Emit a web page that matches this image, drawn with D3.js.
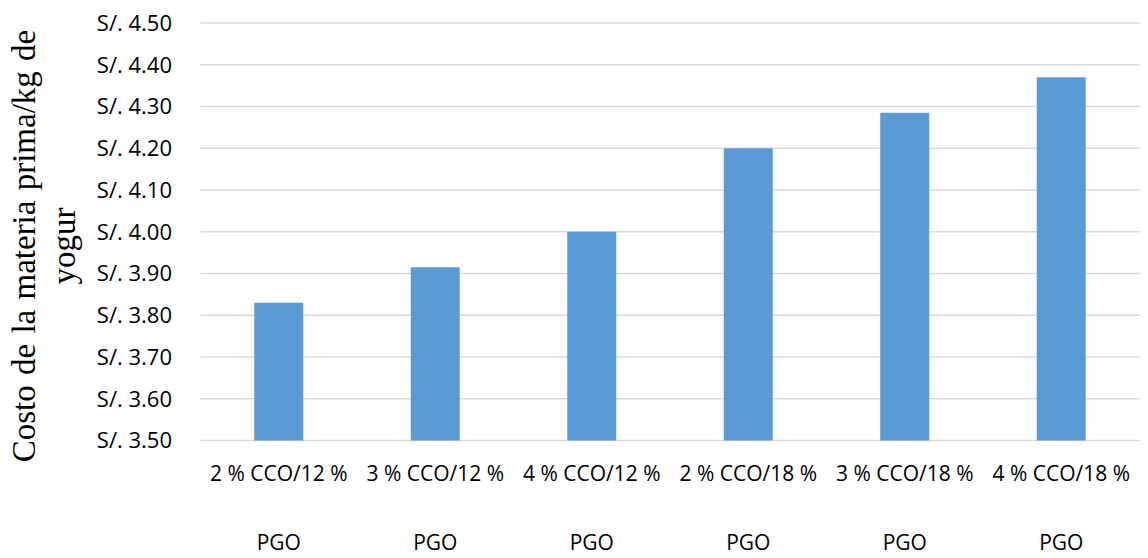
<!DOCTYPE html>
<html>
<head>
<meta charset="utf-8">
<script src="https://cdn.jsdelivr.net/npm/d3@7"></script>
<style>
  html, body { margin: 0; padding: 0; background: #fff; }
  svg { display: block; }
</style>
</head>
<body>
<svg id="chart" width="1148" height="558"></svg>
<script>
// Data
const categoryLine1 = ["2 % CCO/12 %", "3 % CCO/12 %", "4 % CCO/12 %", "2 % CCO/18 %", "3 % CCO/18 %", "4 % CCO/18 %"];
const categoryLine2 = ["PGO", "PGO", "PGO", "PGO", "PGO", "PGO"];
const values = [3.83, 3.915, 4.00, 4.20, 4.285, 4.37];
const yTicks = [3.50, 3.60, 3.70, 3.80, 3.90, 4.00, 4.10, 4.20, 4.30, 4.40, 4.50];
const yLabelLines = ["Costo de la materia prima/kg de", "yogur"];

const svg = d3.select("#chart");
const plot = { left: 200.5, right: 1139.5, top: 23, bottom: 440.5 };

const x = d3.scaleBand()
  .domain(d3.range(values.length))
  .range([plot.left, plot.right])
  .paddingInner(0.687)
  .paddingOuter(0.3435);

const y = d3.scaleLinear()
  .domain([3.5, 4.5])
  .range([plot.bottom, plot.top]);

// Gridlines
svg.append("g")
  .selectAll("line")
  .data(yTicks)
  .join("line")
  .attr("x1", plot.left)
  .attr("x2", plot.right)
  .attr("y1", d => y(d))
  .attr("y2", d => y(d))
  .attr("stroke", "#d9d9d9")
  .attr("stroke-width", 1.5);

// Y axis tick labels
const yAxis = d3.axisLeft(y)
  .tickValues(yTicks)
  .tickSize(0)
  .tickPadding(0)
  .tickFormat(d => "S/. " + d.toFixed(2));

svg.append("g")
  .attr("transform", "translate(172,0)")
  .call(yAxis)
  .call(g => g.select(".domain").remove())
  .call(g => g.selectAll("text")
    .attr("font-family", "'Open Sans', sans-serif")
    .attr("font-size", "22px")
    .attr("fill", "#000")
    .attr("dy", "0.34em"));

// Bars
svg.append("g")
  .selectAll("rect")
  .data(values)
  .join("rect")
  .attr("x", (d, i) => x(i))
  .attr("width", x.bandwidth())
  .attr("y", d => y(d))
  .attr("height", d => y(3.5) - y(d))
  .attr("fill", "#5b9bd5");

// X axis labels
const xAxis = d3.axisBottom(x)
  .tickSize(0)
  .tickPadding(0)
  .tickFormat(i => categoryLine1[i]);

const xg = svg.append("g")
  .attr("transform", `translate(0,${plot.bottom})`)
  .call(xAxis)
  .call(g => g.select(".domain").remove());

xg.selectAll(".tick text").each(function(i) {
  const t = d3.select(this);
  t.text(null)
    .attr("y", 0)
    .attr("dy", null)
    .attr("font-family", "'Open Sans', sans-serif")
    .attr("font-size", "21px")
    .attr("fill", "#000");
  t.append("tspan").attr("x", 0).attr("y", 40.5).text(categoryLine1[i]);
  t.append("tspan").attr("x", 0).attr("y", 109.5).text(categoryLine2[i]);
});

// Y axis title
const yTitle = svg.append("text")
  .attr("transform", "translate(35,246) rotate(-90)")
  .attr("text-anchor", "middle")
  .attr("font-family", "'Liberation Serif', 'Times New Roman', serif")
  .attr("font-size", "33px")
  .attr("fill", "#000");
yTitle.selectAll("tspan")
  .data(yLabelLines)
  .join("tspan")
  .attr("x", 0)
  .attr("y", (d, i) => i * 40)
  .attr("word-spacing", (d, i) => i === 0 ? "2px" : null)
  .text(d => d);
</script>
</body>
</html>
